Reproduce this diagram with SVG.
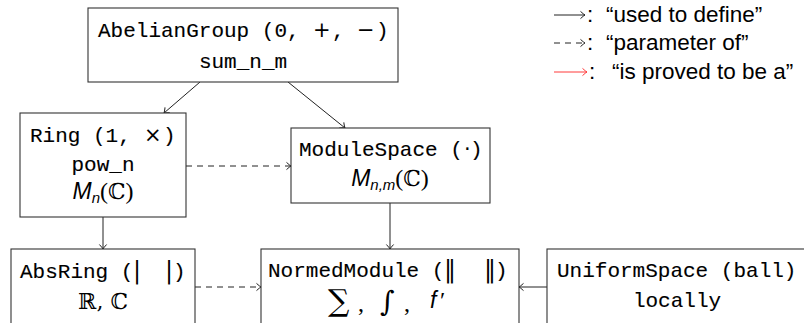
<svg xmlns="http://www.w3.org/2000/svg" width="804" height="323" viewBox="0 0 804 323">
  <style>
    .box { fill: #ffffff; stroke: #333333; stroke-width: 1.1; }
    .tt { font-family: "Liberation Mono", "DejaVu Sans Mono", monospace; font-size: 21px; fill: #000000; stroke: #000000; stroke-width: 0.12; }
    .mid { text-anchor: middle; }
    .sym { font-family: "DejaVu Sans", sans-serif; font-size: 21px; fill: #000000; }
    .rm { font-family: "Liberation Serif", "DejaVu Serif", serif; font-size: 24px; fill: #000000; }
    .bb { font-family: "DejaVu Serif", serif; font-size: 22px; fill: #000000; }
    .bars { font-family: "DejaVu Serif", serif; font-size: 24px; fill: #000000; }
    .mi { font-family: "Liberation Sans", "DejaVu Sans", sans-serif; font-style: italic; font-size: 23px; fill: #000000; }
    .sub { font-family: "Liberation Sans", "DejaVu Sans", sans-serif; font-style: italic; font-size: 15px; }
    .sum { font-family: "DejaVu Serif", serif; font-size: 30px; fill: #000000; }
    .int { font-family: "DejaVu Serif", serif; font-size: 28px; fill: #000000; }
    .leg { font-family: "Liberation Sans", "DejaVu Sans", sans-serif; font-size: 22.5px; fill: #000000; }
    .edge { fill: none; stroke: #222222; stroke-width: 1; }
    .dash { stroke-dasharray: 6 5; }
    .red { stroke: #ff3b3b; }
  </style>
  <defs>
    <marker id="tip" viewBox="-6 -5 7 10" markerWidth="7" markerHeight="10" refX="0" refY="0" markerUnits="userSpaceOnUse" orient="auto">
      <path d="M -4.5 -3.6 Q -1.2 -0.6 0 0 Q -1.2 0.6 -4.5 3.6" fill="none" stroke="#222222" stroke-width="1"/>
    </marker>
    <marker id="tipRed" viewBox="-6 -5 7 10" markerWidth="7" markerHeight="10" refX="0" refY="0" markerUnits="userSpaceOnUse" orient="auto">
      <path d="M -4.5 -3.6 Q -1.2 -0.6 0 0 Q -1.2 0.6 -4.5 3.6" fill="none" stroke="#ff3b3b" stroke-width="1"/>
    </marker>
  </defs>

  <rect width="804" height="323" fill="#ffffff"/>

  <!-- connectors -->
  <g id="connectors">
    <line class="edge" x1="200" y1="82" x2="164" y2="113" marker-end="url(#tip)"/>
    <line class="edge" x1="288" y1="82" x2="345" y2="128" marker-end="url(#tip)"/>
    <line class="edge dash" x1="186" y1="166" x2="291" y2="166" marker-end="url(#tip)"/>
    <line class="edge" x1="103" y1="217" x2="103" y2="249" marker-end="url(#tip)"/>
    <line class="edge" x1="390" y1="203" x2="390" y2="249" marker-end="url(#tip)"/>
    <line class="edge dash" x1="195" y1="287" x2="261" y2="287" marker-end="url(#tip)"/>
    <line class="edge" x1="547" y1="287" x2="519" y2="287" marker-end="url(#tip)"/>
  </g>

  <!-- AbelianGroup -->
  <g id="abelian-group">
    <rect class="box" x="88" y="8" width="310" height="74"/>
    <text y="37" xml:space="preserve"><tspan class="tt" x="98">AbelianGroup (0, </tspan><tspan class="sym" x="313">+</tspan><tspan class="tt" x="332">, </tspan><tspan class="sym" x="357">−</tspan><tspan class="tt" x="376">)</tspan></text>
    <text class="tt mid" x="243" y="68">sum_n_m</text>
  </g>

  <!-- Ring -->
  <g id="ring">
    <rect class="box" x="20" y="113" width="166" height="104"/>
    <text y="142" xml:space="preserve"><tspan class="tt" x="30">Ring (1, </tspan><tspan class="sym" x="144">×</tspan><tspan class="tt" x="163">)</tspan></text>
    <text class="tt mid" x="103" y="171">pow_n</text>
    <text class="mid" x="103" y="199"><tspan class="mi">M</tspan><tspan class="sub" dy="4">n</tspan><tspan class="rm" dy="-4">(</tspan><tspan class="bb">ℂ</tspan><tspan class="rm">)</tspan></text>
  </g>

  <!-- ModuleSpace -->
  <g id="module-space">
    <rect class="box" x="291" y="128" width="199" height="75"/>
    <text y="156" xml:space="preserve"><tspan class="tt" x="299">ModuleSpace (</tspan><tspan class="sym" x="464">·</tspan><tspan class="tt" x="470">)</tspan></text>
    <text class="mid" x="390" y="186"><tspan class="mi">M</tspan><tspan class="sub" dy="4">n,m</tspan><tspan class="rm" dy="-4">(</tspan><tspan class="bb">ℂ</tspan><tspan class="rm">)</tspan></text>
  </g>

  <!-- AbsRing -->
  <g id="abs-ring">
    <rect class="box" x="11" y="249" width="184" height="100"/>
    <text y="278"><tspan class="tt" x="20">AbsRing (</tspan><tspan class="bars" x="133">|</tspan><tspan class="bars" x="165">|</tspan><tspan class="tt" x="173">)</tspan></text>
    <text class="bb mid" x="103" y="309">ℝ, ℂ</text>
  </g>

  <!-- NormedModule -->
  <g id="normed-module">
    <rect class="box" x="261" y="249" width="258" height="100"/>
    <text y="277"><tspan class="tt" x="268">NormedModule (</tspan><tspan class="bars" x="444">‖</tspan><tspan class="bars" x="484">‖</tspan><tspan class="tt" x="495">)</tspan></text>
    <text y="311"><tspan class="sum" x="328">∑</tspan><tspan class="rm" x="358">,</tspan><tspan class="int" x="380">∫</tspan><tspan class="rm" x="404">,</tspan><tspan class="mi" x="430" dy="-3">f</tspan><tspan class="rm" x="440">′</tspan></text>
  </g>

  <!-- UniformSpace -->
  <g id="uniform-space">
    <rect class="box" x="547" y="249" width="270" height="100"/>
    <text class="tt" x="557" y="277">UniformSpace (ball)</text>
    <text class="tt mid" x="677" y="307">locally</text>
  </g>

  <!-- legend -->
  <g id="legend">
    <line class="edge" x1="554" y1="15" x2="585" y2="15" marker-end="url(#tip)"/>
    <text class="leg" x="587" y="22">:<tspan x="606">“used to define”</tspan></text>
    <line class="edge dash" x1="554" y1="43" x2="585" y2="43" stroke-dasharray="5 4" marker-end="url(#tip)"/>
    <text class="leg" x="587" y="50">:<tspan x="606">“parameter of”</tspan></text>
    <line class="edge red" x1="554" y1="72" x2="587" y2="72" marker-end="url(#tipRed)"/>
    <text class="leg" x="589" y="79">:<tspan x="612">“is proved to be a”</tspan></text>
  </g>
</svg>
